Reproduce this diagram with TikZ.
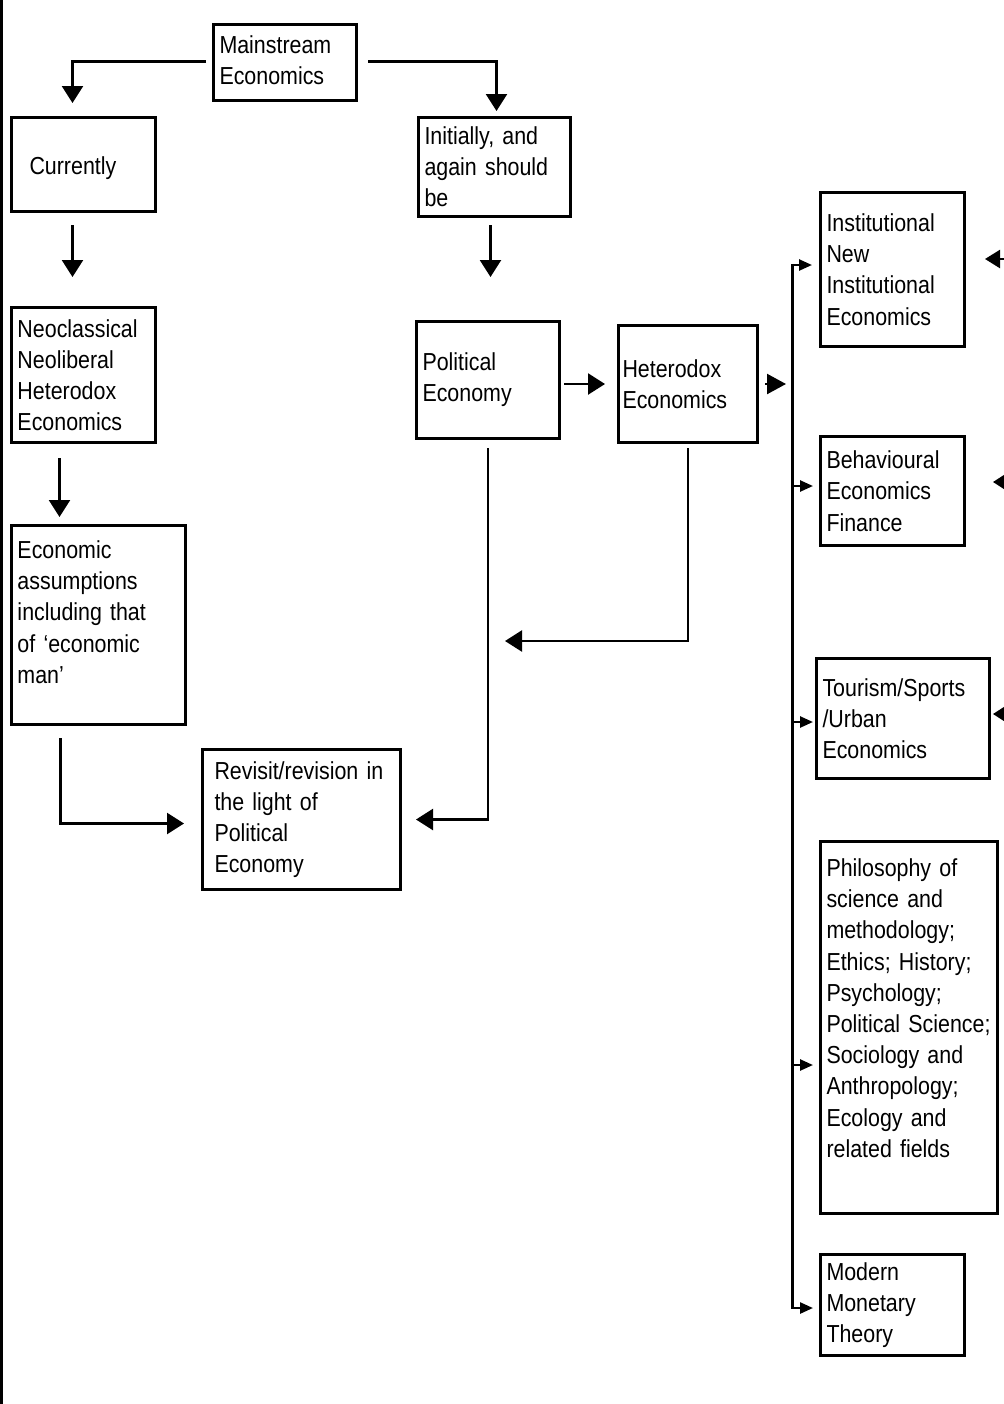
\documentclass[tikz,border=0pt]{standalone}
\usepackage{fontspec}
\setmainfont{Liberation Sans}[FakeStretch=0.87]
\usetikzlibrary{arrows.meta,calc}
\tikzset{
  box/.style={draw, line width=1.5pt, anchor=north west, align=left,
    inner xsep=3pt, inner ysep=2pt,
    font=\fontsize{12.3pt}{15.6pt}\selectfont},
  conn/.style={line width=1.2pt, -{Triangle[length=8.5pt,width=10.5pt]}},
  branch/.style={line width=1.25pt, -{Triangle[length=6.5pt,width=5.5pt]}},
  spineline/.style={line width=1.5pt}
}
\begin{document}
\begin{tikzpicture}[x=0.5pt,y=-0.5pt]
\useasboundingbox (0,0) rectangle (1003,1404);
\fill (0,0) rectangle (3,1404);

% boxes
\node[box, text width=65.5pt, minimum height=38pt] (main) at (212,23) {\raisebox{1pt}[\height][\depth]{Mainstream}\\\raisebox{1pt}[\height][\depth]{Economics}};
\node[box, text width=66pt, minimum height=47pt] (cur) at (10,116) {\hspace*{6pt}\raisebox{-2pt}[\height][\depth]{Currently}};
\node[box, text width=70pt, minimum height=49.5pt] (init) at (417,116) {Initially, and\\again should\\be};
\node[box, text width=66pt, minimum height=67.5pt] (neo) at (10,306) {Neoclassical\\Neoliberal\\Heterodox\\Economics};
\node[box, text width=65.5pt, minimum height=58.5pt] (pe) at (415,320) {Political\\Economy};
\node[box, text width=65.5pt, minimum height=58.5pt, inner xsep=2pt] (het) at (617,324) {Heterodox\\Economics};
\node[box, text width=81pt, minimum height=99.5pt] (econ) at (10,524) {Economic\\assumptions\\including that\\of ‘economic\\man’\\[-2.5pt]\mbox{}};
\node[box, text width=87pt, minimum height=70pt, inner xsep=6pt] (rev) at (201,748) {Revisit/revision in\\the light of\\Political\\Economy};
\node[box, text width=66pt, minimum height=77pt] (inst) at (819,191) {Institutional\\New\\Institutional\\Economics};
\node[box, text width=66pt, minimum height=54.5pt] (beh) at (819,435) {Behavioural\\Economics\\Finance};
\node[box, text width=80.5pt, minimum height=60pt] (tour) at (815,657) {Tourism/Sports\\/Urban\\Economics};
\node[box, text width=82.5pt, minimum height=186pt] (phil) at (819,840) {Philosophy of\\science and\\methodology;\\Ethics; History;\\Psychology;\\Political Science;\\Sociology and\\Anthropology;\\Ecology and\\related fields\\[4pt]\mbox{}};
\node[box, text width=66pt, minimum height=50.5pt] (mmt) at (819,1253) {Modern\\Monetary\\Theory};

% connectors
\draw[conn] ([xshift=-3pt,yshift=0.5pt]main.west) -| ([xshift=-5.5pt,yshift=6.5pt]cur.north);
\draw[conn] ([xshift=5pt,yshift=0.5pt]main.east) -| ([xshift=1pt,yshift=2.5pt]init.north);
\draw[conn] ([xshift=-5.5pt,yshift=-6pt]cur.south) -- ([xshift=-5.5pt,yshift=14.5pt]neo.north);
\draw[conn] ([xshift=-2pt,yshift=-3.5pt]init.south) -- ([xshift=1.25pt,yshift=21.5pt]pe.north);
\draw[conn] ([xshift=-12pt,yshift=-7pt]neo.south) -- ([xshift=-19.5pt,yshift=3.5pt]econ.north);
\draw[conn] ([xshift=-19pt,yshift=-6pt]econ.south) |- ([xshift=-8.5pt,yshift=-2pt]rev.west);
\draw[conn] ([yshift=-4pt]pe.south) |- ([xshift=7pt]rev.east);
\draw[conn] ([xshift=1.5pt]pe.east |- het.west) -- ([xshift=-6pt]het.west);
\coordinate (hetend) at (505,641);
\draw[conn] ([yshift=-2pt]het.south) |- (hetend);

% spine
\coordinate (s1) at (792,265);
\coordinate (s2) at (792,486);
\coordinate (s3) at (792,722);
\coordinate (s4) at (792,1065);
\coordinate (s5) at (792,1308);
\draw[conn, -{Triangle[length=9.5pt,width=10pt]}] ([xshift=3pt]het.east) -- ([xshift=13.5pt]het.east);
\draw[spineline] ([yshift=0.6pt]s1) -- ([yshift=-0.6pt]s5);
\draw[branch, shorten >=3.5pt] (s1) -- (s1 -| inst.west);
\draw[branch, shorten >=3pt] (s2) -- (s2 -| beh.west);
\draw[branch, shorten >=1pt] (s3) -- (s3 -| tour.west);
\draw[branch, shorten >=3pt] (s4) -- (s4 -| phil.west);
\draw[branch, shorten >=3pt] (s5) -- (s5 -| mmt.west);

% fragments entering from the right edge
\coordinate (r1) at (1015,259);
\coordinate (r2) at (1015,482);
\coordinate (r3) at (1015,714);
\draw[line width=1.2pt, -{Triangle[length=7.5pt,width=9pt]}, shorten >=9.5pt] (r1) -- (r1 -| inst.east);
\draw[line width=1.2pt, -{Triangle[length=8pt,width=10pt]}, shorten >=13.5pt] (r2) -- (r2 -| beh.east);
\draw[line width=1.2pt, -{Triangle[length=8pt,width=10pt]}, shorten >=1pt] (r3) -- (r3 -| tour.east);
\end{tikzpicture}
\end{document}
